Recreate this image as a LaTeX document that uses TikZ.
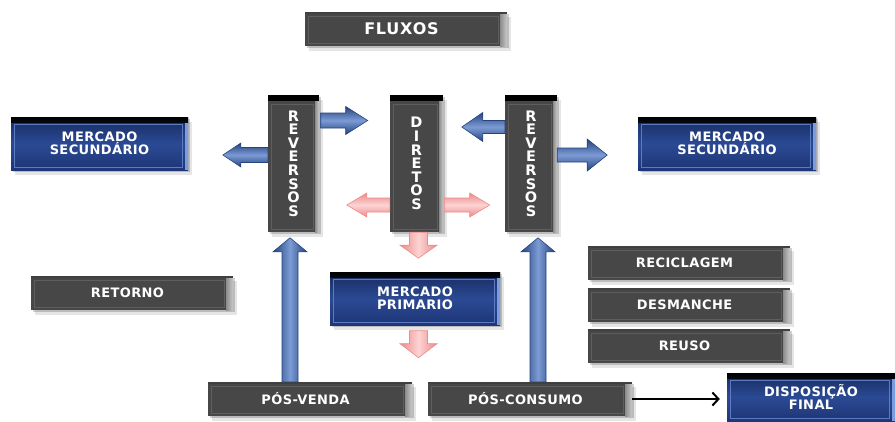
\documentclass[tikz,border=0pt]{standalone}
\usepackage{fontspec}
\setmainfont{DejaVu Sans}
\usetikzlibrary{shadows,calc,arrows.meta}
\definecolor{boxgray}{HTML}{474747}
\definecolor{innergray}{HTML}{5E5E5E}
\definecolor{bevA}{HTML}{8C8C8C}
\definecolor{bevB}{HTML}{C9C9C9}
\definecolor{navyD}{HTML}{172A5E}
\definecolor{navyM}{HTML}{2B4A94}
\definecolor{navyB}{HTML}{1E3576}
\definecolor{navyEdge}{HTML}{7C9CE0}
\definecolor{blueD}{HTML}{24437F}
\definecolor{blueL}{HTML}{7C9BD4}
\definecolor{pinkD}{HTML}{EE8A8A}
\definecolor{pinkL}{HTML}{FCD3D3}
\tikzset{
  lbl/.style={text=white, align=center, inner sep=0pt,
    font=\fontsize{13}{13}\selectfont\bfseries\addfontfeatures{LetterSpace=3}},
  shad/.style={drop shadow={shadow xshift=3.5pt, shadow yshift=-4.5pt, opacity=0.10, fill=black},
               drop shadow={shadow xshift=1.5pt, shadow yshift=-2pt, opacity=0.18, fill=black}},
  graybox/.style={lbl, shad, rectangle, fill=boxgray, minimum height=34pt,
    execute at end node={\hspace*{9pt}},
    path picture={
      \draw[innergray, line width=0.8pt]
        ([shift={(3pt,-4pt)}]path picture bounding box.north west) rectangle
        ([shift={(-9pt,3pt)}]path picture bounding box.south east);
      \shade[left color=bevA, right color=bevB]
        ([xshift=-7pt]path picture bounding box.north east) rectangle
        (path picture bounding box.south east);
      \fill[black!75] (path picture bounding box.north west) rectangle
        ([yshift=-1.5pt]path picture bounding box.north east);
    }},
  navybox/.style={lbl, shad, rectangle, top color=navyD, bottom color=navyB, middle color=navyM,
    path picture={
      \draw[navyEdge!60!navyM, line width=0.6pt]
        ([shift={(3pt,-7pt)}]path picture bounding box.north west) rectangle
        ([shift={(-6pt,3pt)}]path picture bounding box.south east);
      \fill[navyEdge] ([xshift=-3.5pt]path picture bounding box.north east) rectangle
        (path picture bounding box.south east);
      \shade[top color=black, bottom color=black!80!navyD]
        (path picture bounding box.north west) rectangle
        ([yshift=-5pt]path picture bounding box.north east);
    }},
  vbox/.style={shad, rectangle, fill=boxgray, text=white, align=center, inner sep=0pt,
    minimum height=137pt,
    font=\fontsize{14.5}{13.6}\selectfont\bfseries,
    path picture={
      \draw[innergray, line width=0.8pt]
        ([shift={(3pt,-9pt)}]path picture bounding box.north west) rectangle
        ([shift={(-6pt,3pt)}]path picture bounding box.south east);
      \shade[left color=bevA, right color=bevB]
        ([xshift=-4pt]path picture bounding box.north east) rectangle
        (path picture bounding box.south east);
      \fill[black] (path picture bounding box.north west) rectangle
        ([yshift=-6pt]path picture bounding box.north east);
    }},
  bluehor/.style={draw=blueD, line width=0.6pt, top color=blueD, bottom color=blueD, middle color=blueL},
  bluever/.style={draw=blueD, line width=0.6pt, left color=blueD, right color=blueD, middle color=blueL},
  pinkhor/.style={draw=pinkD, line width=0.6pt, top color=pinkD, bottom color=pinkD, middle color=pinkL},
  pinkver/.style={draw=pinkD, line width=0.6pt, left color=pinkD, right color=pinkD, middle color=pinkL},
  link/.style={line width=2pt, -{Straight Barb[length=6pt,width=13pt,line width=2pt]}},
}
% #1 style, #2 tail point, #3 direction angle, #4 length, #5 shaft half width, #6 head half width, #7 head length
\newcommand\blockarr[7]{%
  \path[#1, shift={#2}, rotate=#3] (0,-#5) -- ({#4-#7},-#5) -- ({#4-#7},-#6) -- (#4,0)
    -- ({#4-#7},#6) -- ({#4-#7},#5) -- (0,#5) -- cycle;
}
\begin{document}
\begin{tikzpicture}[x=1pt,y=-1pt]
\useasboundingbox[fill=white] (0,0) rectangle (895,421);

% boxes
\node[graybox, minimum width=202pt, font=\fontsize{16}{16}\selectfont\bfseries\addfontfeatures{LetterSpace=5}] (flux) at (406,29) {FLUXOS};
\node[vbox, minimum width=51pt] (revL) at (293.5,163.5) {R\\E\\V\\E\\R\\S\\O\\S};
\node[vbox, minimum width=53pt] (dir) at (416.5,163.5) {D\\I\\R\\E\\T\\O\\S};
\node[vbox, minimum width=52pt] (revR) at (531,163.5) {R\\E\\V\\E\\R\\S\\O\\S};
\node[navybox, minimum width=177pt, minimum height=53pt] (msL) at (99.5,143.5) {MERCADO\\SECUNDÁRIO};
\node[navybox, minimum width=178pt, minimum height=53pt] (msR) at (727,143.5) {MERCADO\\SECUNDÁRIO};
\node[graybox, minimum width=202pt] (ret) at (132,293) {RETORNO};
\node[navybox, minimum width=170pt, minimum height=53pt] (mp) at (415,298.5) {MERCADO\\PRIMARIO};
\node[graybox, minimum width=202pt] (rec) at (689,263) {RECICLAGEM};
\node[graybox, minimum width=202pt] (des) at (689,305) {DESMANCHE};
\node[graybox, minimum width=202pt] (reu) at (689,346) {REUSO};
\node[graybox, minimum width=204pt] (pv) at (310,399) {PÓS-VENDA};
\node[graybox, minimum width=204pt] (pc) at (530,399) {PÓS-CONSUMO};
\node[navybox, minimum width=168pt, minimum height=48pt] (disp) at (811,397) {DISPOSIÇÃO\\FINAL};

% blue block arrows from the REVERSOS columns
\blockarr{bluehor}{($(revL.east)+(1.5,-43)$)}{0}{47}{7.5}{14}{22}
\blockarr{bluehor}{($(revR.west)+(0,-36.5)$)}{180}{43}{6.5}{14.5}{21}
\blockarr{bluehor}{($(revL.west)+(0,-8.5)$)}{180}{45}{7.5}{12}{18}
\blockarr{bluehor}{($(revR.east)+(0,-8.5)$)}{0}{50}{7}{16}{20}

% pink block arrows from DIRETOS and MERCADO PRIMARIO
\blockarr{pinkhor}{($(dir.west)+(0,41.5)$)}{180}{43}{7}{12}{20}
\blockarr{pinkhor}{($(dir.east)+(1.5,41.5)$)}{0}{45}{7}{12}{20}
\blockarr{pinkver}{($(dir.south)+(2,0)$)}{270}{26}{9}{18.5}{13}
\blockarr{pinkver}{($(mp.south)+(3.5,5.5)$)}{270}{27}{9}{18.5}{14}

% long blue arrows up to the REVERSOS columns
\blockarr{bluever}{($(pv.north -| revL.south)+(-3.5,0)$)}{90}{144}{8}{17}{14}
\blockarr{bluever}{($(pc.north -| revR.south)+(7,0)$)}{90}{144}{8}{17}{14}

% black arrow
\draw[link, shorten >=7pt] (pc.east) -- (pc.east -| disp.west);
\end{tikzpicture}
\end{document}
